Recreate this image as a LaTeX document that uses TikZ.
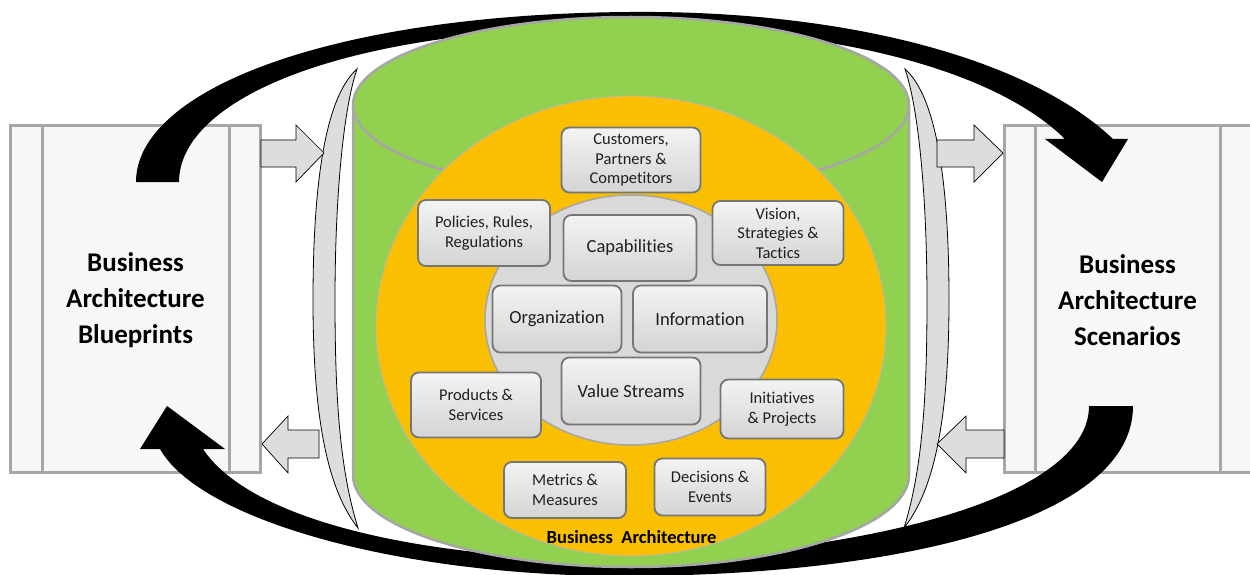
\documentclass[tikz,border=0pt]{standalone}
\usepackage{fontspec}
\setmainfont{Carlito}[RawFeature={-liga;-clig;-dlig}]
\definecolor{cylgreen}{HTML}{92D050}
\definecolor{cylorange}{HTML}{F9BF00}
\definecolor{edgegray}{HTML}{A6A6A6}
\definecolor{panelfill}{HTML}{F7F7F7}
\definecolor{crescentfill}{HTML}{DDDDDD}
\definecolor{innergray}{HTML}{D9D9D9}
\definecolor{boxtop}{HTML}{F3F3F3}
\definecolor{boxbot}{HTML}{D4D4D4}
\definecolor{boxedge}{HTML}{767676}
\begin{document}
\begin{tikzpicture}[x=1pt,y=-1pt,
  panelbox/.style={fill=panelfill, draw=edgegray, line width=3pt},
  paneldiv/.style={draw=edgegray, line width=3pt},
  bigarrow/.style={fill=black},
  blockarrow/.style={fill=crescentfill, draw=black, line width=0.7pt, line join=miter},
  crescent/.style={fill=crescentfill, draw=black, line width=0.8pt},
  item/.style={rounded corners=8pt, top color=boxtop, bottom color=boxbot, draw=boxedge,
    line width=1.8pt, align=center, inner sep=2pt, text=black!88,
    font=\fontsize{16.5}{19.5}\selectfont},
  core/.style={item, font=\fontsize{18.5}{22}\selectfont},
  paneltext/.style={font=\bfseries\fontsize{27}{36}\selectfont, align=center}
]
\useasboundingbox (0,0) rectangle (1250,575);

% side panels
\draw[panelbox] (10,126) rectangle (260,472);
\draw[paneldiv] (42,126) -- (42,472) (229,126) -- (229,472);
\node[paneltext] (bp) at (135.5,300) {Business\\Architecture\\Blueprints};
\draw[panelbox] (1004,126) rectangle (1254,472);
\draw[paneldiv] (1035,126) -- (1035,472) (1220,126) -- (1220,472);
\node[paneltext] (bs) at (1127.5,300) {Business\\Architecture\\Scenarios};

% big curved arrows
\fill[bigarrow] (136,182) .. controls (136,90) and (330,14) .. (630,12)
  .. controls (850,10) and (1030,60) .. (1113,139) -- (1128,139) -- (1102,182) -- (1045,139) -- (1065,139)
  .. controls (1000,75) and (850,28) .. (630,27)
  .. controls (340,27) and (179,100) .. (179,182) -- cycle;
\fill[bigarrow] (1133,406) .. controls (1133,520) and (900,575) .. (630,576)
  .. controls (400,577) and (200,520) .. (160,449) -- (140,449) -- (167,406) -- (225,449) -- (203,449)
  .. controls (250,520) and (420,560) .. (630,560)
  .. controls (900,550) and (1089,490) .. (1089,406) -- cycle;

% cylinder
\fill[cylgreen] (353,105) -- (353,475) arc[start angle=180, end angle=0, x radius=278, y radius=92] -- (909,105) -- cycle;
\draw[edgegray, line width=2.5pt] (353,105) -- (353,475) arc[start angle=180, end angle=0, x radius=278, y radius=92] -- (909,105);
\filldraw[fill=cylgreen, draw=edgegray, line width=2.5pt] (631,105) ellipse[x radius=278, y radius=88];
\filldraw[fill=cylorange, draw=edgegray!80, line width=0.8pt] (631,326) ellipse[x radius=255, y radius=230];
\filldraw[fill=innergray, draw=edgegray, line width=1.5pt] (631,320) ellipse[x radius=146, y radius=125];

% items
\node[item, minimum width=139pt, minimum height=65pt] (cust) at (631,160) {Customers,\\Partners \&\\Competitors};
\node[item, minimum width=132pt, minimum height=66pt] (pol) at (484,233) {Policies, Rules,\\Regulations};
\node[core, minimum width=133pt, minimum height=66pt] (cap) at (630,248) {Capabilities};
\node[item, minimum width=131pt, minimum height=64pt] (vis) at (778,233) {Vision,\\Strategies \&\\Tactics};
\node[core, minimum width=129pt, minimum height=67pt] (org) at (557,319) {Organization};
\node[core, minimum width=134pt, minimum height=67pt] (inf) at (700,319) {Information};
\node[core, minimum width=139pt, minimum height=67pt] (val) at (631,391) {Value Streams};
\node[item, minimum width=130pt, minimum height=65pt] (prod) at (476,405) {Products \&\\Services};
\node[item, minimum width=123pt, minimum height=59pt] (init) at (782,409) {Initiatives\\\& Projects};
\node[item, minimum width=122pt, minimum height=56pt] (met) at (565,490) {Metrics \&\\Measures};
\node[item, minimum width=111pt, minimum height=57pt] (dec) at (710,487) {Decisions \&\\Events};
\node[font=\bfseries\fontsize{18.5}{22}\selectfont] (ba) at (631.5,537) {Business\ \ Architecture};

% crescents
\filldraw[crescent] (357,69) .. controls (322,100) and (313,200) .. (313,300)
  .. controls (313,420) and (328,490) .. (358,528)
  .. controls (340,470) and (335,400) .. (335,300)
  .. controls (335,200) and (343,110) .. (357,69) -- cycle;
\filldraw[crescent] (905,69) .. controls (940,100) and (949,200) .. (949,300)
  .. controls (949,420) and (934,490) .. (904,528)
  .. controls (922,470) and (927,400) .. (927,300)
  .. controls (927,200) and (919,110) .. (905,69) -- cycle;

% block arrows
\draw[blockarrow] (261,140) -- (296,140) -- (296,125) -- (324,153) -- (296,182) -- (296,167) -- (261,167) -- cycle;
\draw[blockarrow] (262,444) -- (288,416) -- (288,430) -- (319,430) -- (319,458) -- (288,458) -- (288,473) -- cycle;
\draw[blockarrow] (937,140) -- (974,140) -- (974,125) -- (1003,153) -- (974,182) -- (974,167) -- (937,167) -- cycle;
\draw[blockarrow] (937,444) -- (966,416) -- (966,430) -- (1004,430) -- (1004,458) -- (966,458) -- (966,473) -- cycle;
\end{tikzpicture}
\end{document}
